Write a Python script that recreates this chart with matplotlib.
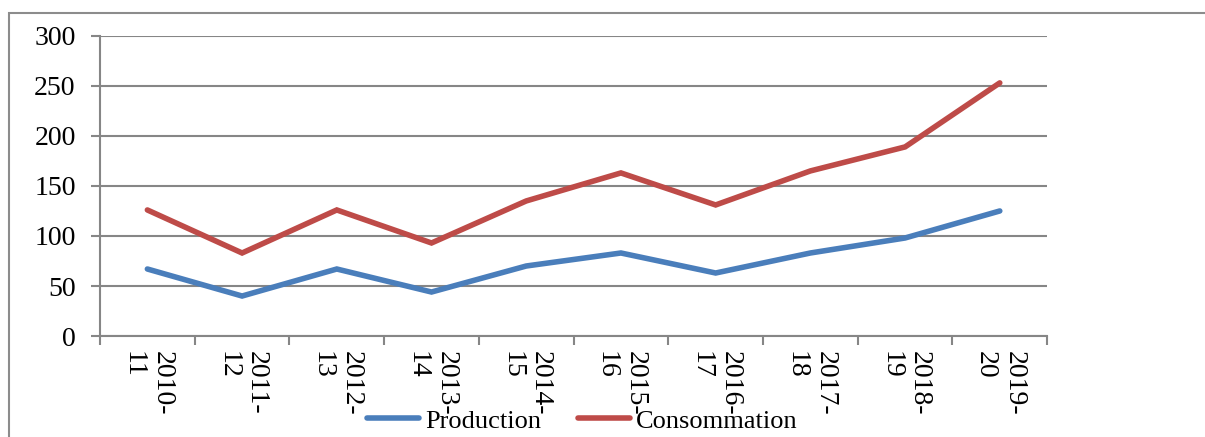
import matplotlib.pyplot as plt
from matplotlib.patches import Rectangle

# données
annees = ["2010-\n11", "2011-\n12", "2012-\n13", "2013-\n14", "2014-\n15",
          "2015-\n16", "2016-\n17", "2017-\n18", "2018-\n19", "2019-\n20"]
production = [67, 40, 67, 44, 70, 83, 63, 83, 98, 125]
consommation = [126, 83, 126, 93, 135, 163, 131, 165, 189, 253]

plt.rcParams['font.family'] = ['Liberation Serif', 'DejaVu Serif']

fig = plt.figure(figsize=(12.05, 4.37), dpi=100)
ax = fig.add_axes([0.083, 0.231, 0.786, 0.687])

# cadre gris autour du graphique
fig.patches.append(Rectangle((0.0075, -0.2), 1.2, 1.17, transform=fig.transFigure,
                             fill=False, edgecolor='#8c8c8c', linewidth=1.5))

x = [i + 0.5 for i in range(len(annees))]
ax.plot(x, production, color='#4A7EBB', linewidth=4, label='Production',
        solid_capstyle='round', solid_joinstyle='miter')
ax.plot(x, consommation, color='#BE4B48', linewidth=4, label='Consommation',
        solid_capstyle='round', solid_joinstyle='miter')

ax.set_xlim(0, len(annees))
ax.set_ylim(0, 300)
ax.set_yticks(range(0, 301, 50))
ax.grid(axis='y', color='#868686', linewidth=1.5)
ax.set_axisbelow(True)

ax.set_xticks(range(len(annees) + 1))
ax.set_xticklabels([])
ax.set_xticks(x, minor=True)
ax.set_xticklabels(annees, minor=True, rotation=270, ha='center', va='top')
for t in ax.get_xticklabels(minor=True):
    t.set_multialignment('left')
ax.tick_params(axis='x', which='minor', length=0, pad=11, labelsize=20)
ax.tick_params(axis='x', which='major', length=6.5, width=1.5, color='#868686')
ax.tick_params(axis='y', length=6.5, width=1.5, color='#868686', labelsize=20, pad=11)

for s in ['top', 'right']:
    ax.spines[s].set_visible(False)
for s in ['left', 'bottom']:
    ax.spines[s].set_color('#868686')
    ax.spines[s].set_linewidth(1.5)

fig.legend(loc='center', bbox_to_anchor=(0.483, 0.037), ncol=2, frameon=False,
           fontsize=19, handlelength=2.0, handletextpad=0.2, columnspacing=1.4)

fig.savefig('out.png', dpi=100)
